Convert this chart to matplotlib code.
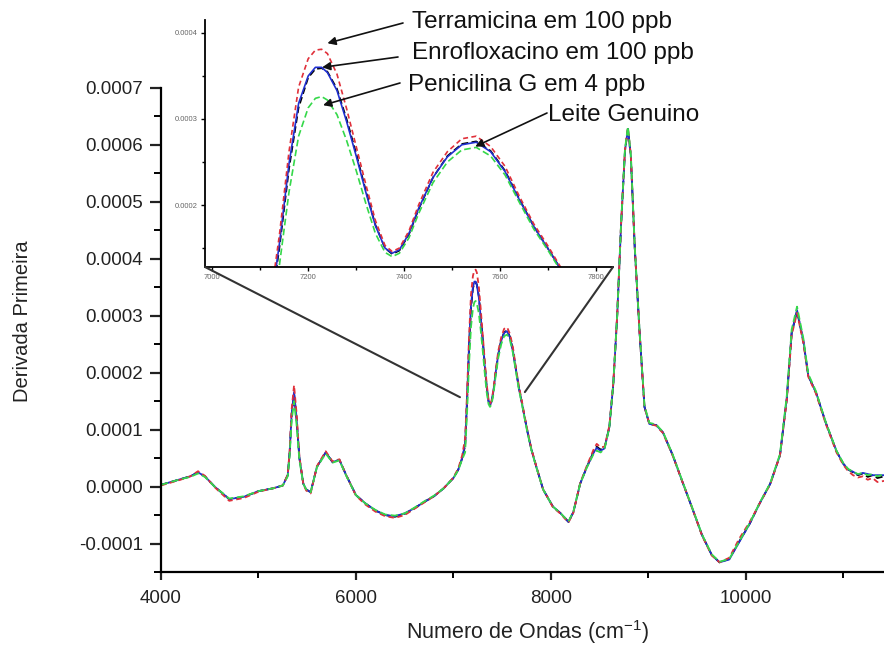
import numpy as np
import matplotlib
matplotlib.use("Agg")
import matplotlib.pyplot as plt
from matplotlib.patches import ConnectionPatch
from matplotlib.ticker import MultipleLocator, FormatStrFormatter

plt.rcParams['font.family'] = ['Liberation Sans', 'DejaVu Sans']
plt.rcParams['mathtext.fontset'] = 'custom'
plt.rcParams['mathtext.rm'] = 'Liberation Sans'
plt.rcParams['mathtext.default'] = 'regular'
plt.rcParams['axes.unicode_minus'] = False

# wavenumber (cm-1)
onda = [4000, 4100, 4200, 4300, 4380, 4450, 4550, 4700, 4850, 5000,
        5150, 5250, 5300, 5320, 5340, 5365, 5390, 5420, 5460, 5490,
        5535, 5600,
        5690, 5760, 5830, 5900, 6000, 6100, 6200, 6300, 6400, 6500,
        6600, 6700, 6800, 6900, 6960, 7000, 7050, 7090, 7120, 7140,
        7160, 7180, 7200, 7215, 7228, 7240, 7260, 7280, 7300, 7320,
        7340, 7360, 7375, 7390, 7410, 7430, 7460, 7490, 7520, 7550,
        7580, 7610, 7640, 7670, 7700, 7730, 7760, 7800, 7850, 7920,
        8020, 8100, 8180, 8230, 8300, 8370, 8440, 8470, 8510, 8550,
        8600, 8640, 8680, 8720, 8760, 8790, 8820, 8860, 8910, 8960,
        9010, 9080, 9150, 9250, 9350, 9450, 9550, 9650, 9730, 9830,
        9930, 10040, 10140, 10250, 10350, 10420, 10470, 10525, 10590, 10640,
        10720, 10820, 10930, 11000, 11050, 11100, 11150, 11200, 11250, 11300,
        11350, 11420]

# first derivative values, in units of 1e-4
leite = [0.03, 0.08, 0.13, 0.18, 0.25, 0.18, 0.0, -0.22, -0.18, -0.08,
         -0.03, 0.02, 0.2, 0.6, 1.25, 1.63, 1.2, 0.5, 0.05, -0.05,
         -0.1, 0.35,
         0.6, 0.43, 0.47, 0.2, -0.15, -0.3, -0.42, -0.5, -0.53, -0.48,
         -0.38, -0.27, -0.17, -0.03, 0.08, 0.15, 0.3, 0.5, 0.72, 1.5,
         2.42, 3.13, 3.48, 3.58, 3.59, 3.55, 3.35, 3.0, 2.6, 2.17,
         1.77, 1.5, 1.43, 1.47, 1.66, 1.95, 2.32, 2.57, 2.71, 2.74,
         2.63, 2.4, 2.07, 1.75, 1.49, 1.22, 0.96, 0.65, 0.35, -0.05,
         -0.35, -0.47, -0.62, -0.45, 0.05, 0.35, 0.62, 0.7, 0.65, 0.68,
         1.05, 1.8, 3.0, 4.6, 5.9, 6.28, 5.8, 4.2, 2.7, 1.4,
         1.1, 1.08, 0.95, 0.55, 0.08, -0.38, -0.85, -1.2, -1.33, -1.27,
         -0.97, -0.65, -0.3, 0.05, 0.55, 1.55, 2.7, 3.08, 2.55, 1.95,
         1.65, 1.12, 0.62, 0.4, 0.3, 0.25, 0.2, 0.23, 0.17, 0.2,
         0.15, 0.18]

terramicina = [0.02, 0.07, 0.12, 0.18, 0.27, 0.19, -0.01, -0.25, -0.2, -0.09,
               -0.03, 0.02, 0.21, 0.63, 1.35, 1.78, 1.3, 0.53, 0.04, -0.07,
               -0.12, 0.36,
               0.62, 0.44, 0.48, 0.2, -0.16, -0.32, -0.44, -0.52, -0.55, -0.5,
               -0.39, -0.28, -0.17, -0.03, 0.08, 0.16, 0.32, 0.55, 0.85, 1.65,
               2.62, 3.37, 3.7, 3.8, 3.81, 3.76, 3.52, 3.12, 2.68, 2.24,
               1.82, 1.53, 1.46, 1.5, 1.7, 2.0, 2.38, 2.62, 2.77, 2.8,
               2.68, 2.45, 2.1, 1.78, 1.52, 1.24, 0.98, 0.66, 0.36, -0.05,
               -0.36, -0.48, -0.63, -0.46, 0.06, 0.37, 0.66, 0.75, 0.69, 0.7,
               1.07, 1.82, 3.02, 4.62, 5.92, 6.3, 5.82, 4.22, 2.7, 1.4,
               1.1, 1.07, 0.94, 0.54, 0.08, -0.38, -0.86, -1.21, -1.33, -1.25,
               -0.92, -0.62, -0.3, 0.04, 0.55, 1.52, 2.66, 3.05, 2.52, 1.93,
               1.63, 1.1, 0.6, 0.38, 0.27, 0.2, 0.16, 0.18, 0.12, 0.15,
               0.08, 0.1]

enrofloxacino = [0.03, 0.08, 0.13, 0.18, 0.25, 0.18, 0.0, -0.22, -0.18, -0.08,
                 -0.03, 0.02, 0.2, 0.6, 1.27, 1.66, 1.22, 0.5, 0.05, -0.05,
                 -0.1, 0.35,
                 0.6, 0.43, 0.47, 0.2, -0.15, -0.3, -0.42, -0.5, -0.52, -0.47,
                 -0.38, -0.27, -0.17, -0.03, 0.08, 0.15, 0.3, 0.5, 0.75, 1.55,
                 2.48, 3.18, 3.5, 3.6, 3.6, 3.54, 3.33, 2.97, 2.57, 2.15,
                 1.76, 1.5, 1.44, 1.48, 1.67, 1.96, 2.32, 2.56, 2.7, 2.73,
                 2.62, 2.39, 2.06, 1.75, 1.49, 1.22, 0.96, 0.65, 0.35, -0.05,
                 -0.35, -0.47, -0.62, -0.45, 0.05, 0.35, 0.6, 0.68, 0.63, 0.67,
                 1.05, 1.8, 3.0, 4.6, 5.9, 6.28, 5.8, 4.2, 2.7, 1.4,
                 1.1, 1.08, 0.95, 0.55, 0.08, -0.38, -0.85, -1.2, -1.33, -1.28,
                 -0.98, -0.65, -0.3, 0.05, 0.55, 1.55, 2.7, 3.1, 2.56, 1.95,
                 1.65, 1.12, 0.62, 0.4, 0.3, 0.26, 0.21, 0.24, 0.22, 0.2,
                 0.2, 0.2]

penicilina = [0.03, 0.08, 0.13, 0.17, 0.23, 0.17, 0.0, -0.21, -0.17, -0.08,
              -0.03, 0.02, 0.18, 0.55, 1.15, 1.5, 1.1, 0.46, 0.05, -0.05,
              -0.1, 0.34,
              0.58, 0.42, 0.46, 0.19, -0.15, -0.3, -0.41, -0.49, -0.51, -0.47,
              -0.37, -0.26, -0.16, -0.03, 0.08, 0.15, 0.29, 0.48, 0.6, 1.3,
              2.15, 2.8, 3.13, 3.24, 3.26, 3.22, 3.05, 2.75, 2.4, 2.02,
              1.67, 1.45, 1.4, 1.44, 1.62, 1.9, 2.26, 2.5, 2.64, 2.67,
              2.57, 2.35, 2.03, 1.72, 1.47, 1.2, 0.94, 0.64, 0.34, -0.05,
              -0.35, -0.47, -0.61, -0.44, 0.05, 0.34, 0.58, 0.63, 0.6, 0.66,
              1.04, 1.8, 3.0, 4.62, 5.93, 6.32, 5.83, 4.22, 2.72, 1.42,
              1.12, 1.09, 0.96, 0.56, 0.09, -0.37, -0.84, -1.19, -1.32, -1.27,
              -0.97, -0.64, -0.29, 0.06, 0.57, 1.6, 2.76, 3.16, 2.6, 1.98,
              1.67, 1.13, 0.63, 0.41, 0.31, 0.26, 0.22, 0.24, 0.2, 0.22,
              0.18, 0.22]

x = np.array(onda)
series = [
    (leite, 'black', (0, (4, 2))),
    (enrofloxacino, '#1f2fd0', '-'),
    (terramicina, '#e0303a', (0, (3, 2))),
    (penicilina, '#35d84a', (0, (4, 2))),
]

W, H = 884, 648
fig = plt.figure(figsize=(W / 100, H / 100), dpi=100)


def fx(px):
    return px / W


def fy(py):
    return 1 - py / H


ax = fig.add_axes([fx(161), fy(572), fx(895) - fx(161), fy(88) - fy(572)])
for vals, col, ls in series:
    ax.plot(x, np.array(vals) * 1e-4, color=col, ls=ls, lw=1.3)

ax.set_xlim(4000, 11530)
ax.set_ylim(-0.00015, 0.0007)
ax.spines['top'].set_visible(False)
ax.spines['right'].set_visible(False)
for s in ['left', 'bottom']:
    ax.spines[s].set_linewidth(1.6)
ax.xaxis.set_major_locator(MultipleLocator(2000))
ax.xaxis.set_minor_locator(MultipleLocator(1000))
ax.yaxis.set_major_locator(MultipleLocator(0.0001))
ax.yaxis.set_minor_locator(MultipleLocator(0.00005))
ax.yaxis.set_major_formatter(FormatStrFormatter('%.4f'))
ax.tick_params(axis='y', which='major', length=8, width=1.6, labelsize=13.5, pad=5)
ax.tick_params(axis='y', which='minor', length=5, width=1.4)
ax.tick_params(axis='x', which='major', length=6, width=1.6, labelsize=13.5, pad=7)
ax.tick_params(axis='x', which='minor', length=4.5, width=1.4)
ax.tick_params(colors='#222222')

fig.text(fx(528), fy(632), 'Numero de Ondas (cm$^{-1}$)', fontsize=15.5,
         ha='center', va='center', color='#222222')
fig.text(fx(23), fy(321), 'Derivada Primeira', fontsize=14.5, rotation=90,
         ha='center', va='center', color='#222222')

# inset zoom
axin = fig.add_axes([fx(205), fy(267), fx(613) - fx(205), fy(20) - fy(267)])
axin.set_facecolor('white')
for vals, col, ls in series:
    axin.plot(x, np.array(vals) * 1e-4, color=col, ls=ls, lw=1.2)
axin.set_xlim(6985, 7835)
axin.set_ylim(0.000128, 0.000415)
axin.spines['top'].set_visible(False)
axin.spines['right'].set_visible(False)
for s in ['left', 'bottom']:
    axin.spines[s].set_linewidth(1.3)
axin.xaxis.set_major_locator(MultipleLocator(200))
axin.xaxis.set_minor_locator(MultipleLocator(100))
axin.yaxis.set_major_locator(MultipleLocator(0.0001))
axin.yaxis.set_minor_locator(MultipleLocator(0.00005))
axin.yaxis.set_major_formatter(FormatStrFormatter('%.4f'))
axin.tick_params(which='major', length=3, width=1, labelsize=5.5,
                 labelcolor='#666666', pad=2)
axin.tick_params(which='minor', length=2, width=1)

# zoom indicator lines
for corner, target in [((0, 0), (7067, 0.000157)), ((1, 0), (7733, 0.000166))]:
    con = ConnectionPatch(xyA=corner, coordsA=axin.transAxes,
                          xyB=target, coordsB=ax.transData,
                          color='#333333', lw=1.5)
    fig.add_artist(con)

# labels with arrows
notes = [
    ('Terramicina em 100 ppb', (412, 22), (403, 23), (7240, 0.000388)),
    ('Enrofloxacino em 100 ppb', (412, 53), (398, 57), (7229, 0.000360)),
    ('Penicilina G em 4 ppb', (408, 85), (400, 83), (7231, 0.000316)),
    ('Leite Genuino', (548, 115), (547, 113), (7548, 0.000268)),
]
for txt, tpos, tail, head in notes:
    fig.text(fx(tpos[0]), fy(tpos[1]), txt, fontsize=17.5, ha='left',
             va='center', color='#111111')
    axin.annotate('', xy=head, xycoords='data',
                  xytext=(fx(tail[0]), fy(tail[1])), textcoords='figure fraction',
                  arrowprops=dict(arrowstyle='-|>', color='#111111', lw=1.2,
                                  mutation_scale=12, shrinkA=0, shrinkB=0),
                  annotation_clip=False)

fig.savefig('out.png', dpi=100)
